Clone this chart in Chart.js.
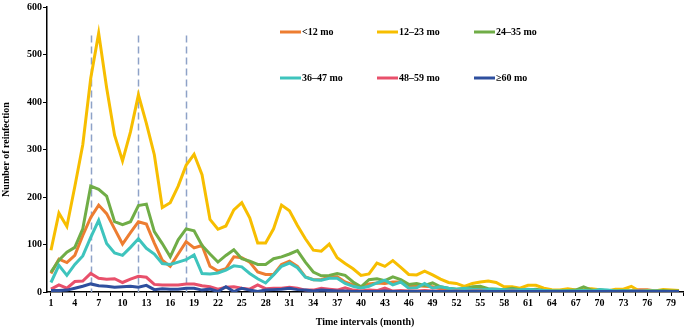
<!DOCTYPE html>
<html>
<head>
<meta charset="utf-8">
<script src="https://cdn.jsdelivr.net/npm/chart.js@4.4.1/dist/chart.umd.min.js"></script>
<style>
  html, body { margin: 0; padding: 0; background: #fff; }
  #wrap { width: 685px; height: 328px; position: relative; }
</style>
</head>
<body>
<div id="wrap"><canvas id="chart1"></canvas></div>
<script>
// Reinfection counts by time interval (month), per age group
const months = [1, 2, 3, 4, 5, 6, 7, 8, 9, 10, 11, 12, 13, 14, 15, 16, 17, 18, 19, 20,
    21, 22, 23, 24, 25, 26, 27, 28, 29, 30, 31, 32, 33, 34, 35, 36, 37, 38, 39, 40,
    41, 42, 43, 44, 45, 46, 47, 48, 49, 50, 51, 52, 53, 54, 55, 56, 57, 58, 59, 60,
    61, 62, 63, 64, 65, 66, 67, 68, 69, 70, 71, 72, 73, 74, 75, 76, 77, 78, 79, 80];

const xTickLabels = [1, 4, 7, 10, 13, 16, 19, 22, 25, 28, 31, 34, 37, 40, 43, 46, 49, 52, 55, 58, 61, 64, 67, 70, 73, 76, 79];
const markerMonths = [6, 12, 18];

const seriesNames = ['<12 mo', '12\u201323 mo', '24\u201335 mo', '36\u201347 mo', '48\u201359 mo', '\u226560 mo'];
const seriesColors = ['#ed7d31', '#f7be00', '#70ad47', '#3ec4bd', '#e8506b', '#2e4f9e'];

const under12 = [39, 69, 62, 77, 119, 157, 183, 165, 133, 101, 125, 148, 143, 103, 67, 54, 80, 106, 93, 98,
    54, 44, 49, 74, 72, 63, 42, 37, 37, 58, 65, 54, 32, 26, 26, 32, 32, 21, 15, 10,
    17, 19, 18, 21, 21, 12, 13, 12, 11, 7, 5, 4, 5, 6, 9, 5, 4, 3, 3, 4,
    3, 2, 3, 2, 2, 3, 2, 2, 3, 2, 2, 3, 2, 3, 5, 5, 2, 2, 2, 1];
const m12to23 = [88, 166, 138, 222, 310, 450, 545, 430, 330, 276, 337, 415, 355, 289, 178, 188, 223, 267, 290, 247,
    153, 132, 139, 173, 188, 156, 103, 103, 133, 183, 171, 140, 112, 88, 86, 101, 72, 60, 49, 35,
    38, 61, 54, 66, 52, 37, 36, 44, 36, 27, 20, 18, 12, 18, 21, 23, 20, 11, 11, 8,
    14, 14, 8, 5, 4, 7, 4, 7, 7, 5, 2, 6, 6, 12, 2, 3, 2, 5, 4, 3];
const m24to35 = [42, 67, 84, 94, 133, 223, 216, 202, 148, 142, 148, 182, 185, 127, 102, 74, 110, 133, 129, 98,
    80, 63, 77, 89, 70, 65, 58, 58, 70, 74, 80, 87, 63, 42, 34, 35, 39, 35, 21, 11,
    26, 28, 24, 32, 26, 16, 18, 14, 19, 11, 8, 6, 7, 11, 12, 7, 6, 5, 8, 5,
    4, 6, 3, 2, 2, 3, 4, 11, 4, 2, 3, 2, 3, 2, 3, 2, 2, 3, 2, 2];
const m36to47 = [20, 56, 35, 58, 76, 115, 151, 102, 82, 77, 94, 112, 92, 80, 60, 58, 63, 68, 78, 39,
    38, 40, 46, 55, 53, 39, 28, 19, 36, 54, 61, 51, 31, 26, 25, 29, 29, 18, 12, 8,
    12, 19, 25, 15, 21, 8, 9, 18, 8, 11, 8, 6, 8, 6, 5, 6, 6, 5, 4, 4,
    6, 4, 3, 2, 2, 2, 2, 3, 2, 5, 4, 2, 2, 2, 2, 2, 2, 1, 1, 1];
const m48to59 = [6, 15, 8, 22, 23, 39, 29, 27, 28, 20, 27, 33, 31, 16, 15, 15, 15, 17, 17, 13,
    11, 6, 10, 11, 8, 6, 15, 7, 8, 8, 10, 8, 4, 4, 8, 6, 4, 9, 4, 2,
    4, 3, 8, 2, 3, 2, 2, 3, 2, 2, 1, 2, 1, 2, 2, 1, 1, 1, 2, 1,
    1, 1, 1, 1, 1, 1, 1, 1, 1, 1, 1, 1, 1, 1, 2, 1, 1, 1, 1, 1];
const over60 = [3, 3, 4, 8, 12, 17, 13, 12, 10, 11, 12, 10, 14, 5, 7, 6, 6, 8, 8, 4,
    6, 1, 11, 1, 8, 4, 1, 4, 5, 6, 8, 5, 4, 2, 4, 3, 2, 2, 1, 1,
    1, 1, 2, 1, 1, 1, 1, 1, 1, 1, 1, 1, 1, 1, 1, 1, 1, 1, 1, 1,
    1, 1, 1, 1, 1, 1, 1, 1, 1, 1, 1, 1, 1, 1, 1, 1, 1, 1, 1, 1];

const allSeries = [under12, m12to23, m24to35, m36to47, m48to59, over60];

const FONT = "'Liberation Serif', 'Times New Roman', serif";

// dashed reference lines at selected months
const markerLines = {
    id: 'markerLines',
    beforeDatasetsDraw(chart) {
        const x = chart.scales.x, y = chart.scales.y, c = chart.ctx;
        c.save();
        c.strokeStyle = '#8ea2c8';
        c.lineWidth = 1.5;
        c.setLineDash([7, 4]);
        markerMonths.forEach(function (m) {
            const px = Math.round(x.getPixelForValue(m)) + 0.5;
            c.beginPath();
            c.moveTo(px, y.getPixelForValue(540));
            c.lineTo(px, y.getPixelForValue(0));
            c.stroke();
        });
        c.restore();
    }
};

// 3 x 2 legend inside the plot
const gridLegend = {
    id: 'gridLegend',
    afterDraw(chart) {
        const c = chart.ctx;
        c.save();
        c.font = 'bold 10px ' + FONT;
        c.textBaseline = 'middle';
        c.textAlign = 'left';
        seriesNames.forEach(function (name, i) {
            const col = i % 3, row = Math.floor(i / 3);
            const lx = 280 + col * 97, ly = 32 + row * 46;
            c.strokeStyle = seriesColors[i];
            c.lineWidth = 3;
            c.beginPath();
            c.moveTo(lx, ly);
            c.lineTo(lx + 21, ly);
            c.stroke();
            c.fillStyle = '#000';
            c.fillText(name, lx + 22, ly + 0.5);
        });
        c.restore();
    }
};

const ctx1 = document.getElementById('chart1').getContext('2d');
const chart1 = new Chart(ctx1, {
    type: 'line',
    data: {
        datasets: allSeries.map(function (vals, i) {
            return {
                label: seriesNames[i],
                data: vals.map(function (v, k) { return { x: months[k], y: v }; }),
                borderColor: seriesColors[i],
                backgroundColor: seriesColors[i],
                borderWidth: 3,
                pointRadius: 0,
                tension: 0,
                order: allSeries.length - i
            };
        })
    },
    options: {
        responsive: true,
        maintainAspectRatio: false,
        animation: false,
        layout: { padding: { top: 4, right: 2, left: 0, bottom: 0 } },
        plugins: {
            legend: { display: false },
            tooltip: { enabled: false }
        },
        scales: {
            x: {
                type: 'linear',
                min: 0.5,
                max: 80.5,
                afterBuildTicks: function (scale) {
                    const t = [];
                    xTickLabels.forEach(function (v) {
                        t.push({ value: v });
                        if (v + 1.5 <= 80.5) t.push({ value: v + 1.5 });
                    });
                    scale.ticks = t;
                },
                afterFit: function (scale) { scale.height = 36; },
                grid: { display: true, drawOnChartArea: false, drawTicks: true, tickLength: 4, color: '#000', lineWidth: 1 },
                border: { display: true, color: '#000', width: 1.5 },
                ticks: {
                    autoSkip: false,
                    maxRotation: 0,
                    padding: 1,
                    color: '#000',
                    font: { family: FONT, size: 10, weight: 'bold' },
                    callback: function (v) { return xTickLabels.indexOf(v) >= 0 ? String(v) : ''; }
                },
                title: {
                    display: true,
                    text: 'Time intervals (month)',
                    color: '#000',
                    padding: { top: 0, bottom: 0 },
                    font: { family: FONT, size: 10, weight: 'bold' }
                }
            },
            y: {
                min: 0,
                max: 600,
                afterFit: function (scale) { scale.width = 47; },
                grid: { display: true, drawOnChartArea: false, drawTicks: true, tickLength: 4, color: '#000', lineWidth: 1 },
                border: { display: true, color: '#000', width: 1.5 },
                ticks: {
                    stepSize: 100,
                    padding: 1,
                    color: '#000',
                    font: { family: FONT, size: 10, weight: 'bold' }
                },
                title: {
                    display: true,
                    text: 'Number of reinfection',
                    color: '#000',
                    padding: { top: 0, bottom: 0 },
                    font: { family: FONT, size: 10, weight: 'bold' }
                }
            }
        }
    },
    plugins: [markerLines, gridLegend]
});
</script>
</body>
</html>
